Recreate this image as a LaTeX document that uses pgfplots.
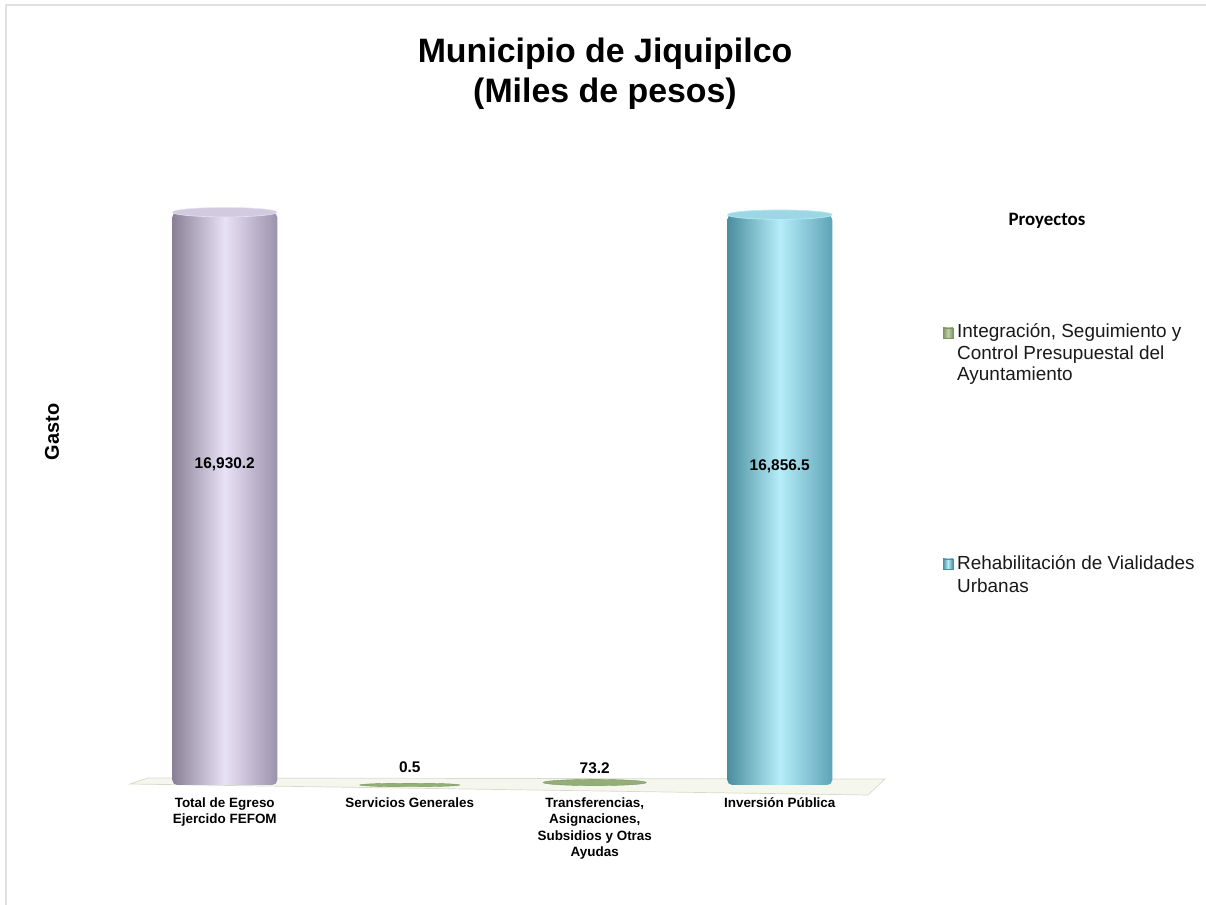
\documentclass[border=0pt]{standalone}
\usepackage{pgfplots}
\pgfplotsset{compat=1.18}
\usepackage{fontspec}
\setmainfont{Liberation Sans}
\newfontfamily\carlito{Carlito}
\definecolor{pL}{HTML}{8A8095}
\definecolor{pM}{HTML}{E8E2F6}
\definecolor{pR}{HTML}{9C92AC}
\definecolor{pCap}{HTML}{D2CADF}
\definecolor{bL}{HTML}{4A8E9F}
\definecolor{bM}{HTML}{B6EDF9}
\definecolor{bR}{HTML}{5EA4B7}
\definecolor{bCap}{HTML}{9ED7E4}
\definecolor{gF}{HTML}{94AE78}
\definecolor{gE}{HTML}{7A9660}
\definecolor{floorF}{HTML}{F5F7EE}
\definecolor{floorD}{HTML}{D6DBC8}
\begin{document}
\begin{tikzpicture}[x=1bp,y=1bp]
\path[use as bounding box] (0,0) rectangle (1206,905);
\draw[black!12, line width=1.5bp] (6,0) -- (6,900) -- (1206,900);
% title
\node[anchor=base, font=\bfseries\fontsize{34}{40}\selectfont] at (605,842) {Municipio de Jiquipilco};
\node[anchor=base, font=\bfseries\fontsize{34}{40}\selectfont] at (605,802) {(Miles de pesos)};
% y label
\node[rotate=90, font=\bfseries\fontsize{20}{24}\selectfont] at (52,473) {Gasto};
% floor
\filldraw[fill=floorF, draw=floorD, line width=0.7bp] (130,121) -- (148,127) -- (885,126) -- (868,110) -- cycle;
\begin{axis}[
  at={(123bp,120bp)}, anchor=south west, scale only axis,
  width=758.5bp, height=609bp,
  xmin=-0.55, xmax=3.55, ymin=0, ymax=18000,
  axis line style={draw=none}, ytick=\empty,
  xtick={0,1,2,3}, major tick length=0pt,
  xticklabels={{Total de Egreso\\Ejercido FEFOM},{Servicios Generales},{Transferencias,\\Asignaciones,\\Subsidios y Otras\\Ayudas},{Inversión Pública}},
  xticklabel style={align=center, font=\bfseries\fontsize{13.5}{16.5}\selectfont, anchor=north, inner sep=0pt, yshift=-12.5bp},
  clip=false, bar width=105bp,
  /pgf/number format/assume math mode=true,
]
% purple cylinder
\addplot[ybar, bar shift=0pt, draw=none, left color=pL, right color=pR, middle color=pM, rounded corners=5bp] coordinates {(0,16930.2)};
\addplot[only marks, mark=*, mark size=52.5bp, mark options={yscale=0.09, fill=pCap, draw=pM, line width=0.6bp}] coordinates {(0,16930.2)};
% blue cylinder
\addplot[ybar, bar shift=0pt, draw=none, left color=bL, right color=bR, middle color=bM, rounded corners=5bp] coordinates {(3,16856.5)};
\addplot[only marks, mark=*, mark size=52.5bp, mark options={yscale=0.09, fill=bCap, draw=bM, line width=0.6bp}] coordinates {(3,16856.5)};
% green discs
\addplot[only marks, mark=*, mark size=50bp, mark options={yscale=0.035, fill=gF, draw=gE, line width=0.4bp}] coordinates {(1,0.5)};
\addplot[only marks, mark=*, mark size=51.5bp, mark options={yscale=0.06, fill=gF, draw=gE, line width=0.4bp}] coordinates {(2,73.2)};
% labels
\addplot[draw=none, mark=none, point meta=y,
  nodes near coords={\pgfmathprintnumber[fixed,fixed zerofill,precision=1,1000 sep={,},assume math mode=true]{\pgfplotspointmeta}},
  every node near coord/.append style={anchor=base, yshift=-256bp, font=\bfseries\fontsize{15.5}{18}\selectfont, text=black}]
  coordinates {(0,16930.2) (3,16856.5)};
\addplot[draw=none, mark=none, point meta=y,
  nodes near coords={\pgfmathprintnumber[fixed,precision=1,1000 sep={,},assume math mode=true]{\pgfplotspointmeta}},
  every node near coord/.append style={anchor=base, yshift=12bp, font=\bfseries\fontsize{15.5}{18}\selectfont, text=black}]
  coordinates {(1,0.5)};
\addplot[draw=none, mark=none, point meta=y,
  nodes near coords={\pgfmathprintnumber[fixed,precision=1,1000 sep={,},assume math mode=true]{\pgfplotspointmeta}},
  every node near coord/.append style={anchor=base, yshift=9.5bp, font=\bfseries\fontsize{15.5}{18}\selectfont, text=black}]
  coordinates {(2,73.2)};
\end{axis}
% legend
\node[anchor=base, font=\carlito\bfseries\fontsize{19}{22}\selectfont] at (1047,679) {Proyectos};
\shade[left color=gE, right color=gE, middle color=gF!60!white, draw=gE, line width=0.5bp] (943,567) rectangle (953,577);
\shade[left color=bL, right color=bL, middle color=bM, draw=bL, line width=0.5bp] (943,336) rectangle (953,346);
\begin{scope}[every node/.style={anchor=base west, inner sep=0pt, font=\fontsize{19}{22}\selectfont, text=black!90}]
\node at (957,567) {Integración, Seguimiento y};
\node at (957,545) {Control Presupuestal del};
\node at (957,524) {Ayuntamiento};
\node at (957,335) {Rehabilitación de Vialidades};
\node at (957,312) {Urbanas};
\end{scope}
\end{tikzpicture}
\end{document}
